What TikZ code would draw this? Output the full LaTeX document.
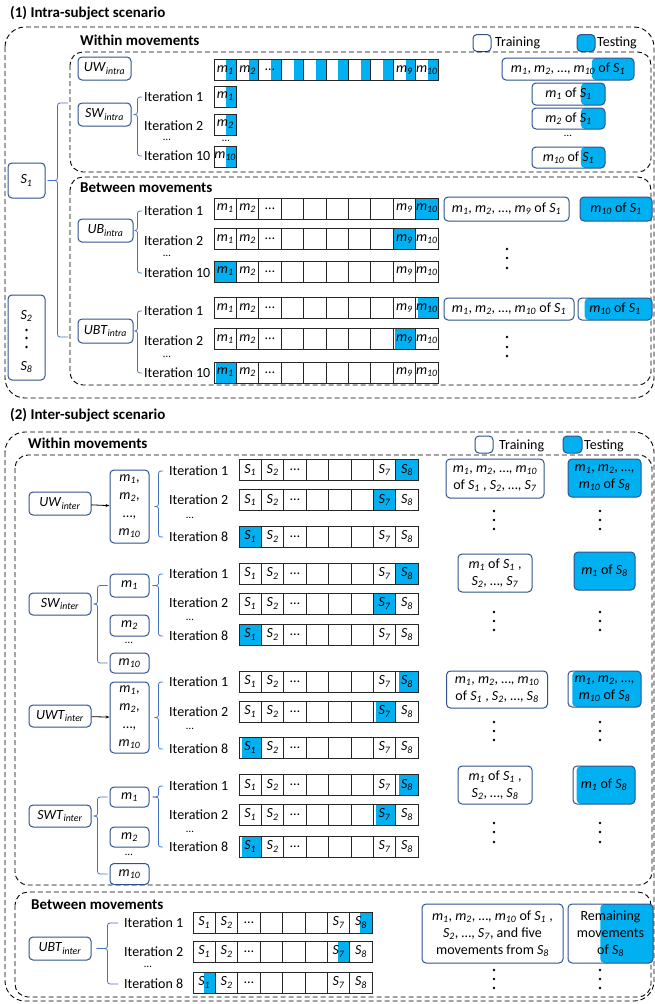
\documentclass[tikz,border=0pt]{standalone}
\usepackage{fontspec}
\setmainfont{Carlito}
\usetikzlibrary{calc,arrows.meta}

\definecolor{boxblue}{RGB}{47,82,143}
\definecolor{braceblue}{RGB}{68,114,196}
\definecolor{testblue}{RGB}{0,176,240}

\newcommand{\mv}[1]{\textit{m}\textsubscript{\textit{#1}}}
\newcommand{\sj}[1]{\textit{S}\textsubscript{\textit{#1}}}
\newcommand{\nm}[2]{\textit{#1}\textsubscript{\textit{#2}}}
\def\cw{22.4}

\tikzset{
  partfill/.style={path picture={\fill[testblue] ($(path picture bounding box.south west)!#1!(path picture bounding box.south east)$) rectangle (path picture bounding box.north east);}},
  mbox/.style={draw=boxblue, line width=1pt, rounded corners=4pt, inner sep=1pt, align=center},
  cell/.style={draw=black!85, line width=0.7pt, minimum width=\cw pt, minimum height=21pt, inner sep=0pt, font=\fontsize{14}{15}\selectfont},
  itlbl/.style={anchor=west, inner sep=1pt},
  dotsm/.style={inner sep=0pt, font=\fontsize{11}{12}\selectfont},
  hdr/.style={anchor=west, inner sep=0pt, font=\fontsize{15}{17}\selectfont\bfseries},
  dashbox/.style={draw, line width=0.9pt, dash pattern=on 5pt off 3pt, rounded corners=#1},
  dashbox/.default=13pt,
  brc/.style={draw=braceblue, line width=0.8pt, rounded corners=2.5pt},
}

% brace: tip node, tip gap, bar gap, top end, bottom end
\newcommand{\brk}[5]{%
  \draw[brc] (#4) -| ([xshift=#3]#1.east) -- ([xshift=#2]#1.east);
  \draw[brc] (#5) -| ([xshift=#3]#1.east) -- ([xshift=#2]#1.east);
}
% row of cells: name, left x, centre y, blue cell (99 = all), blue from, labels
\newcommand{\cellrow}[6]{%
  \foreach \ctxt [count=\c] in #6 {%
    \ifnum#4=99 \tikzset{hl/.style={partfill=#5}}%
    \else\ifnum\c=#4 \tikzset{hl/.style={partfill=#5}}%
    \else\tikzset{hl/.style={}}\fi\fi
    \node[cell, hl] (#1-\c) at ({#2+(\c-0.5)*\cw},#3) {\ctxt};
  }%
}
\newcommand{\vdotcol}[2]{\foreach \yy in {#2} \fill (#1,\yy) circle (1.3pt);}
\def\mrow{\mv{1},\mv{2},\dots,{},{},{},{},{},\mv{9},\mv{10}}
\def\srow{\sj{1},\sj{2},\dots,{},{},{},\sj{7},\sj{8}}

\begin{document}
\begin{tikzpicture}[x=1pt, y=-1pt, font=\fontsize{14}{17}\selectfont]
\useasboundingbox (0,0) rectangle (655,1004);

% (1) intra-subject scenario
\node[hdr] (ttl-intra) at (10,13) {(1) Intra-subject scenario};
\draw[dashbox=20pt] (5,27) rectangle (654,398);
\node[hdr] (wm-intra) at (80,40) {Within movements};
\node[mbox, minimum width=18pt, minimum height=17pt] (lg1-tr) at (482,43) {};
\node[itlbl] (lg1-trt) at (494,43) {Training};
\node[mbox, fill=testblue, minimum width=18pt, minimum height=17pt] (lg1-te) at (586,43) {};
\node[itlbl] (lg1-tet) at (596,43) {Testing};
\draw[dashbox] (70,52) rectangle (651,172);
\draw[dashbox] (70,177) rectangle (651,385);
\node[hdr] (bm-intra) at (80,188) {Between movements};

\node[mbox, minimum width=37pt, minimum height=35pt] (s1) at (26.5,180.5) {\sj{1}};
\node[mbox, minimum width=37pt, minimum height=85pt] (s28) at (26.5,337.5) {};
\node (s28-a) at (26.5,316) {\sj{2}};
\vdotcol{26.5}{330,338,347}
\node (s28-b) at (26.5,367) {\sj{8}};
\coordinate (wi-top) at (68,103);
\coordinate (bi-bot) at (68,337);
\brk{s1}{2pt}{12pt}{wi-top}{bi-bot}

% within movements
\node[mbox, minimum width=53pt, minimum height=23pt] (uwi) at (104.5,68.5) {\nm{UW}{intra}};
\cellrow{uwi-c}{214}{70}{99}{0.55}{\mrow}
\node[mbox, minimum width=132pt, minimum height=22pt, partfill=0.68] (uwi-t) at (568,69) {\mv{1}, \mv{2}, \dots, \mv{10} of \sj{1}};

\node[mbox, minimum width=53pt, minimum height=23pt] (swi) at (104.5,114.5) {\nm{SW}{intra}};
\node[itlbl] (swi-it1) at (143,97) {Iteration 1};
\node[itlbl] (swi-it2) at (143,126) {Iteration 2};
\node[dotsm] (swi-itd) at (167,140) {\dots};
\node[itlbl] (swi-it10) at (143,156) {Iteration 10};
\brk{swi}{2pt}{6pt}{[xshift=-1pt]swi-it1.west}{[xshift=-1pt]swi-it10.west}
\cellrow{swi-c1}{214}{96.5}{1}{0.55}{{\mv{1}}}
\cellrow{swi-c2}{214}{124.5}{1}{0.55}{{\mv{2}}}
\node[dotsm] (swi-cd) at (226,141) {\dots};
\cellrow{swi-c10}{214}{156.5}{1}{0.55}{{\mv{10}}}
\node[mbox, minimum width=73pt, minimum height=22pt, partfill=0.67] (swi-t1) at (568.5,94) {\mv{1} of \sj{1}};
\node[mbox, minimum width=73pt, minimum height=21pt, partfill=0.67] (swi-t2) at (568.5,118.5) {\mv{2} of \sj{1}};
\node[dotsm] (swi-td) at (568,136) {\dots};
\node[mbox, minimum width=73pt, minimum height=21pt, partfill=0.67] (swi-t10) at (568.5,157.5) {\mv{10} of \sj{1}};

% between movements
\node[mbox, minimum width=55pt, minimum height=23pt] (ubi) at (105.5,230.5) {\nm{UB}{intra}};
\node[itlbl] (ubi-it1) at (143,211) {Iteration 1};
\node[itlbl] (ubi-it2) at (143,241) {Iteration 2};
\node[dotsm] (ubi-itd) at (167,256) {\dots};
\node[itlbl] (ubi-it10) at (143,273) {Iteration 10};
\brk{ubi}{1pt}{4pt}{[xshift=-1pt]ubi-it1.west}{[xshift=-1pt]ubi-it10.west}
\cellrow{ubi-r1}{214}{208.5}{10}{0}{\mrow}
\cellrow{ubi-r2}{214}{239}{9}{0}{\mrow}
\cellrow{ubi-r10}{214}{271.5}{1}{0}{\mrow}
\node[mbox, minimum width=125pt, minimum height=24pt] (ubi-tr) at (506.5,209) {\mv{1}, \mv{2}, \dots, \mv{9} of \sj{1}};
\node[mbox, fill=testblue, minimum width=72pt, minimum height=24pt] (ubi-te) at (616,209) {\mv{10} of \sj{1}};
\vdotcol{507}{249,258,268}

\node[mbox, minimum width=55pt, minimum height=24pt] (ubti) at (105.5,331) {\nm{UBT}{intra}};
\node[itlbl] (ubti-it1) at (143,311) {Iteration 1};
\node[itlbl] (ubti-it2) at (143,341) {Iteration 2};
\node[dotsm] (ubti-itd) at (167,357) {\dots};
\node[itlbl] (ubti-it10) at (143,373) {Iteration 10};
\brk{ubti}{1pt}{4pt}{[xshift=-1pt]ubti-it1.west}{[xshift=-1pt]ubti-it10.west}
\cellrow{ubti-r1}{214}{308}{10}{0.1}{\mrow}
\cellrow{ubti-r2}{214}{339}{9}{0.1}{\mrow}
\cellrow{ubti-r10}{214}{372.5}{1}{0.1}{\mrow}
\node[mbox, minimum width=130pt, minimum height=22pt] (ubti-tr) at (509,309) {\mv{1}, \mv{2}, \dots, \mv{10} of \sj{1}};
\node[mbox, minimum width=74pt, minimum height=22pt, partfill=0.09] (ubti-te) at (615,309) {\mv{10} of \sj{1}};
\vdotcol{507}{337,347,356}

% (2) inter-subject scenario
\node[hdr] (ttl-inter) at (10,415) {(2) Inter-subject scenario};
\draw[dashbox=20pt] (5,432) rectangle (654,1001);
\node[hdr] (wm-inter) at (28,443) {Within movements};
\node[mbox, minimum width=18pt, minimum height=17pt] (lg2-tr) at (484,444.5) {};
\node[itlbl] (lg2-trt) at (498,446) {Training};
\node[mbox, fill=testblue, minimum width=19pt, minimum height=17pt] (lg2-te) at (572.5,444.5) {};
\node[itlbl] (lg2-tet) at (583,446) {Testing};
\draw[dashbox] (15,455) rectangle (652,885);
\draw[dashbox] (15,892) rectangle (651,997);
\node[hdr] (bm-inter) at (31,905) {Between movements};

% UW inter
\node[mbox, minimum width=62pt, minimum height=23pt] (uwe) at (60,503.5) {\nm{UW}{inter}};
\node[mbox, minimum width=39pt, minimum height=73pt, font=\fontsize{14}{18}\selectfont] (uwe-ml) at (129.5,506.5) {\mv{1},\\\mv{2},\\\dots,\\\mv{10}};
\draw[-{Stealth[length=4pt,width=3pt]}, line width=0.8pt] (uwe) -- (uwe-ml);
\node[itlbl] (uwe-it1) at (168,471) {Iteration 1};
\node[itlbl] (uwe-it2) at (168,500) {Iteration 2};
\node[dotsm] (uwe-itd) at (190,518) {\dots};
\node[itlbl] (uwe-it8) at (168,537) {Iteration 8};
\brk{uwe-ml}{5pt}{9pt}{[xshift=-5pt]uwe-it1.west}{[xshift=-5pt]uwe-it8.west}
\cellrow{uwe-r1}{239}{470}{8}{0}{\srow}
\cellrow{uwe-r2}{239}{500}{7}{0}{\srow}
\cellrow{uwe-r8}{239}{536.5}{1}{0}{\srow}
\node[mbox, minimum width=98pt, minimum height=39pt] (uwe-tr) at (495,478.5) {\mv{1}, \mv{2}, \dots, \mv{10}\\of \sj{1} , \sj{2}, \dots, \sj{7}};
\node[mbox, fill=testblue, minimum width=73pt, minimum height=38pt] (uwe-te) at (604.5,478) {\mv{1}, \mv{2}, \dots,\\\mv{10} of \sj{8}};
\vdotcol{494}{511,520,529}
\vdotcol{600}{511,520,529}

% SW inter
\node[mbox, minimum width=62pt, minimum height=22pt] (swe) at (60,604) {\nm{SW}{inter}};
\node[mbox, minimum width=39pt, minimum height=23pt] (swe-m1) at (129.5,585.5) {\mv{1}};
\node[mbox, minimum width=39pt, minimum height=21pt] (swe-m2) at (129.5,625.5) {\mv{2}};
\node[dotsm] (swe-md) at (129,643) {\dots};
\node[mbox, minimum width=39pt, minimum height=20pt] (swe-m10) at (129.5,663) {\mv{10}};
\brk{swe}{2pt}{6pt}{[xshift=-2pt]swe-m1.west}{[xshift=-2pt]swe-m10.west}
\node[itlbl] (swe-it1) at (168,574) {Iteration 1};
\node[itlbl] (swe-it2) at (168,603) {Iteration 2};
\node[dotsm] (swe-itd) at (190,620) {\dots};
\node[itlbl] (swe-it8) at (168,636) {Iteration 8};
\brk{swe-m1}{3pt}{9pt}{[xshift=-5pt]swe-it1.west}{[xshift=-5pt]swe-it8.west}
\cellrow{swe-r1}{239}{573.5}{8}{0}{\srow}
\cellrow{swe-r2}{239}{603.5}{7}{0}{\srow}
\cellrow{swe-r8}{239}{634.5}{1}{0}{\srow}
\node[mbox, minimum width=74pt, minimum height=38pt] (swe-tr) at (495,573) {\mv{1} of \sj{1} ,\\\sj{2}, \dots, \sj{7}};
\node[mbox, fill=testblue, minimum width=61pt, minimum height=38pt] (swe-te) at (604.5,571) {\mv{1} of \sj{8}};
\vdotcol{494}{612,621,630}
\vdotcol{600}{612,621,630}

% UWT inter
\node[mbox, minimum width=62pt, minimum height=22pt] (uwte) at (60,716) {\nm{UWT}{inter}};
\node[mbox, minimum width=39pt, minimum height=71pt, font=\fontsize{14}{18}\selectfont] (uwte-ml) at (129.5,717.5) {\mv{1},\\\mv{2},\\\dots,\\\mv{10}};
\draw[-{Stealth[length=4pt,width=3pt]}, line width=0.8pt] (uwte) -- (uwte-ml);
\node[itlbl] (uwte-it1) at (168,682) {Iteration 1};
\node[itlbl] (uwte-it2) at (168,712) {Iteration 2};
\node[dotsm] (uwte-itd) at (190,729) {\dots};
\node[itlbl] (uwte-it8) at (168,749) {Iteration 8};
\brk{uwte-ml}{5pt}{9pt}{[xshift=-5pt]uwte-it1.west}{[xshift=-5pt]uwte-it8.west}
\cellrow{uwte-r1}{239}{681.5}{8}{0.13}{\srow}
\cellrow{uwte-r2}{239}{711.5}{7}{0.13}{\srow}
\cellrow{uwte-r8}{239}{747.5}{1}{0.13}{\srow}
\node[mbox, minimum width=101pt, minimum height=37pt] (uwte-tr) at (497,689.5) {\mv{1}, \mv{2}, \dots, \mv{10}\\of \sj{1} , \sj{2}, \dots, \sj{8}};
\node[mbox, minimum width=73pt, minimum height=36pt, partfill=0.06] (uwte-te) at (604.5,689) {\mv{1}, \mv{2}, \dots,\\\mv{10} of \sj{8}};
\vdotcol{494}{722,731,740}
\vdotcol{600}{722,731,740}

% SWT inter
\node[mbox, minimum width=62pt, minimum height=22pt] (swte) at (60,816) {\nm{SWT}{inter}};
\node[mbox, minimum width=39pt, minimum height=20pt] (swte-m1) at (129.5,797) {\mv{1}};
\node[mbox, minimum width=39pt, minimum height=20pt] (swte-m2) at (129.5,837) {\mv{2}};
\node[dotsm] (swte-md) at (129,855) {\dots};
\node[mbox, minimum width=39pt, minimum height=21pt] (swte-m10) at (129.5,874) {\mv{10}};
\brk{swte}{2pt}{6pt}{[xshift=-2pt]swte-m1.west}{[xshift=-2pt]swte-m10.west}
\node[itlbl] (swte-it1) at (168,786) {Iteration 1};
\node[itlbl] (swte-it2) at (168,815) {Iteration 2};
\node[dotsm] (swte-itd) at (190,832) {\dots};
\node[itlbl] (swte-it8) at (168,847) {Iteration 8};
\brk{swte-m1}{3pt}{9pt}{[xshift=-5pt]swte-it1.west}{[xshift=-5pt]swte-it8.west}
\cellrow{swte-r1}{239}{785}{8}{0.13}{\srow}
\cellrow{swte-r2}{239}{814.5}{7}{0.13}{\srow}
\cellrow{swte-r8}{239}{846.5}{1}{0.13}{\srow}
\node[mbox, minimum width=74pt, minimum height=38pt] (swte-tr) at (495,785) {\mv{1} of \sj{1} ,\\\sj{2}, \dots, \sj{8}};
\node[mbox, minimum width=62pt, minimum height=38pt, partfill=0.06] (swte-te) at (604,785) {\mv{1} of \sj{8}};
\vdotcol{494}{823,832,842}
\vdotcol{600}{823,832,842}

% UBT inter
\node[mbox, minimum width=62pt, minimum height=23pt] (ubte) at (60,948.5) {\nm{UBT}{inter}};
\node[itlbl] (ubte-it1) at (123,923) {Iteration 1};
\node[itlbl] (ubte-it2) at (123,952) {Iteration 2};
\node[dotsm] (ubte-itd) at (148,967) {\dots};
\node[itlbl] (ubte-it8) at (123,984) {Iteration 8};
\brk{ubte}{5pt}{16pt}{[xshift=-5pt]ubte-it1.west}{[xshift=-5pt]ubte-it8.west}
\cellrow{ubte-r1}{193}{922.5}{8}{0.47}{\srow}
\cellrow{ubte-r2}{193}{951.5}{7}{0.47}{\srow}
\cellrow{ubte-r8}{193}{982.5}{1}{0.47}{\srow}
\node[mbox, minimum width=141pt, minimum height=59pt] (ubte-tr) at (492.5,933.5) {\mv{1}, \mv{2}, \dots, \mv{10} of \sj{1} ,\\\sj{2}, \dots, \sj{7}, and five\\movements from \sj{8}};
\node[mbox, minimum width=85pt, minimum height=59pt, partfill=0.38] (ubte-te) at (610.5,933.5) {Remaining\\movements\\of \sj{8}};
\vdotcol{494}{970,979,988}
\vdotcol{600}{970,979,988}
\end{tikzpicture}
\end{document}
